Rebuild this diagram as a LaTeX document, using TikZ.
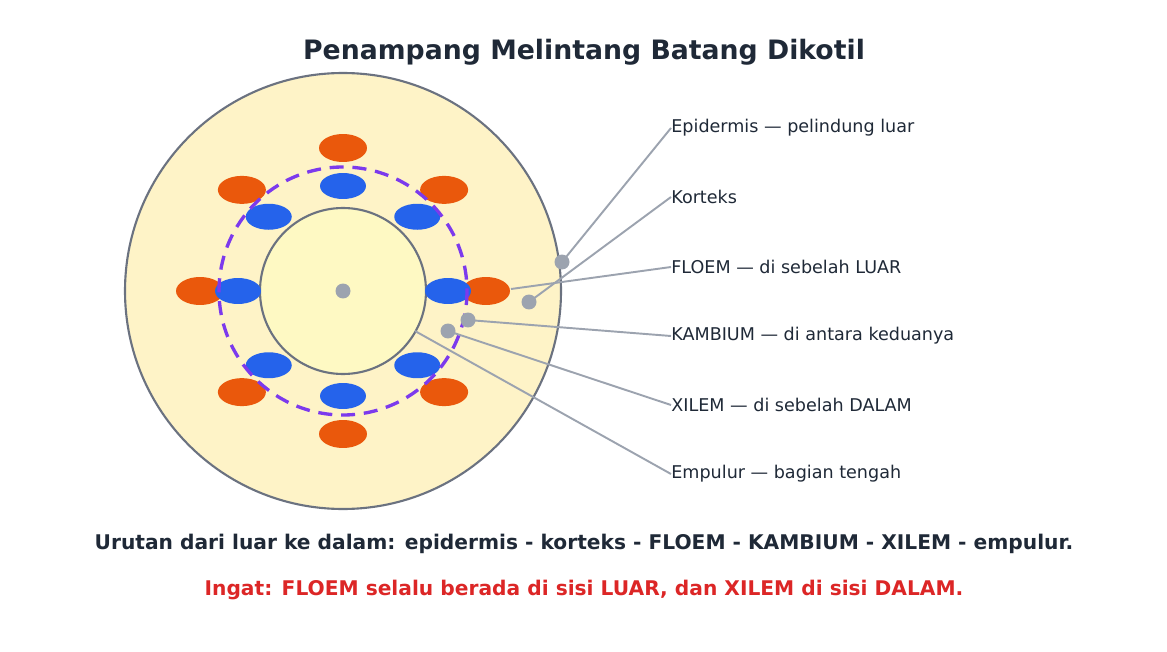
\documentclass[tikz,border=0pt]{standalone}
\usepackage{fontspec}
\setmainfont{DejaVu Sans}
\usetikzlibrary{positioning,shapes.geometric}
\definecolor{rimgray}{HTML}{6B7280}
\definecolor{linegray}{HTML}{9CA3AF}
\definecolor{cortexfill}{HTML}{FEF3C7}
\definecolor{pithfill}{HTML}{FEF9C3}
\definecolor{phloemorange}{HTML}{EA580C}
\definecolor{xylemblue}{HTML}{2563EB}
\definecolor{cambiumpurple}{HTML}{7C3AED}
\definecolor{textdark}{HTML}{1F2937}
\definecolor{notered}{HTML}{DC2626}

\begin{document}
\begin{tikzpicture}[
        x=0.02cm, y=-0.02cm,
        phloem/.style = {ellipse, fill=phloemorange, minimum width=0.96cm, minimum height=0.56cm, inner sep=0pt},
        xylem/.style = {ellipse, fill=xylemblue, minimum width=0.92cm, minimum height=0.52cm, inner sep=0pt},
        pin/.style = {circle, fill=linegray, minimum size=0.3cm, inner sep=0pt},
        lead/.style = {draw=linegray, line width=1.1pt},
        label/.style = {anchor=west, text=textdark, font=\fontsize{10}{12}\selectfont, inner sep=0pt}
    ]
    \useasboundingbox (0,0) rectangle (1167,652);

    \node[font=\bfseries\fontsize{15.2}{18}\selectfont, text=textdark] (Title) at (584,52) {Penampang Melintang Batang Dikotil};

    % stem cross section
    \draw[rimgray, fill=cortexfill, line width=1.2pt] (343,291) circle (218);
    \draw[rimgray, fill=pithfill, line width=1.2pt] (343,291) circle (83);
    \node[pin] (Centre) at (343,291) {};

    % leader lines
    \coordinate (Epi) at (562,262);
    \coordinate (Kor) at (529,302);
    \coordinate (Flo) at (511,289);
    \coordinate (Kam) at (468,320);
    \coordinate (Xil) at (448,331);
    \coordinate (Emp) at (415,331);
    \node[label] (LEpi) at (671,128) {Epidermis — pelindung luar};
    \node[label] (LKor) at (671,197) {Korteks};
    \node[label] (LFlo) at (671,267) {FLOEM — di sebelah LUAR};
    \node[label] (LKam) at (671,336) {KAMBIUM — di antara keduanya};
    \node[label] (LXil) at (671,405) {XILEM — di sebelah DALAM};
    \node[label] (LEmp) at (671,474) {Empulur — bagian tengah};
    \foreach \from/\to in {Epi/LEpi, Kor/LKor, Flo/LFlo, Kam/LKam, Xil/LXil, Emp/LEmp}
        \draw[lead] (\from) -- (\to.west);

    % vascular bundles
    \foreach \a in {0,45,...,315} {
        \node[phloem] at ({343+143*cos(\a)},{291-143*sin(\a)}) {};
        \node[xylem] at ({343+105*cos(\a)},{291-105*sin(\a)}) {};
    }
    \draw[cambiumpurple, line width=1.9pt, dash pattern=on 8pt off 5pt] (343,291) circle (124);

    \foreach \p in {Epi, Kor, Kam, Xil}
        \node[pin] at (\p) {};

    \node[font=\bfseries\fontsize{11.5}{14}\selectfont, text=textdark] (Order) at (584,544) {Urutan dari luar ke dalam: epidermis - korteks - FLOEM - KAMBIUM - XILEM - empulur.};
    \node[font=\bfseries\fontsize{11.5}{14}\selectfont, text=notered] (Note) at (584,590) {Ingat: FLOEM selalu berada di sisi LUAR, dan XILEM di sisi DALAM.};
\end{tikzpicture}
\end{document}
